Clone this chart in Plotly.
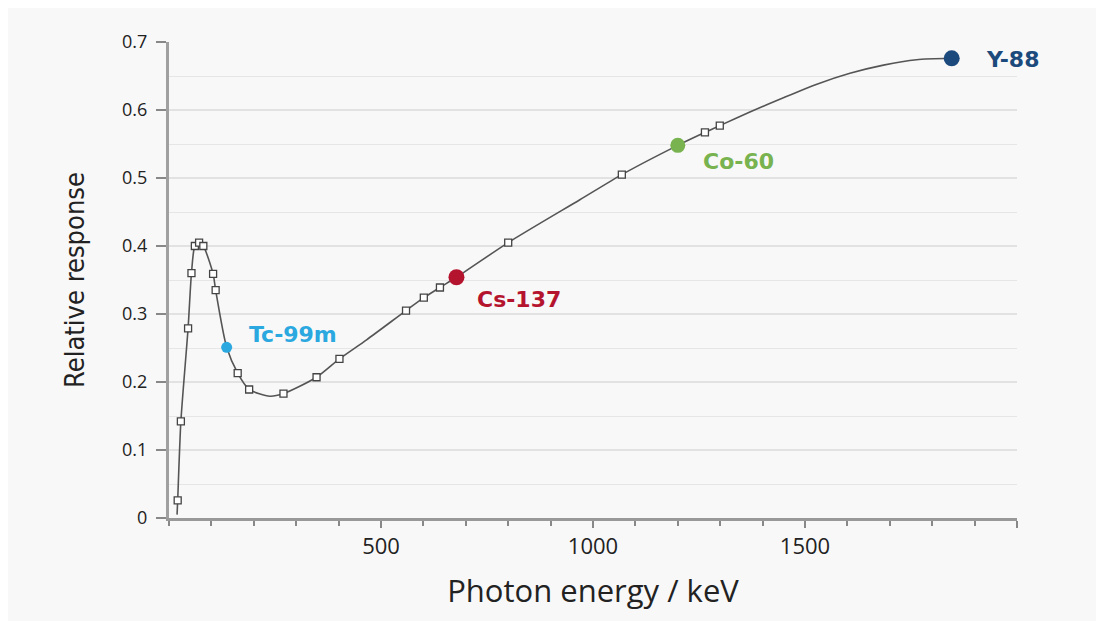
import plotly.graph_objects as go

curve_energy = [19, 20.5, 28, 45, 53, 61, 71, 81, 104, 110, 136, 162, 189, 238, 270,
                348, 402, 466, 559, 601, 639, 678, 800, 969, 1068, 1200, 1264, 1299,
                1370, 1449, 1528, 1606, 1685, 1763, 1846]
curve_response = [0.005, 0.026, 0.142, 0.279, 0.360, 0.400, 0.405, 0.400, 0.359, 0.335,
                  0.251, 0.213, 0.189, 0.179, 0.183, 0.207, 0.234, 0.262, 0.305, 0.324,
                  0.339, 0.354, 0.405, 0.468, 0.505, 0.548, 0.567, 0.577, 0.597, 0.618,
                  0.638, 0.654, 0.666, 0.674, 0.676]

# Measured points (open squares)
meas_energy = [20.5, 28, 45, 53, 61, 71, 81, 104, 110, 162, 189, 270, 348, 402,
               559, 601, 639, 800, 1068, 1264, 1299]
meas_response = [0.026, 0.142, 0.279, 0.360, 0.400, 0.405, 0.400, 0.359, 0.335, 0.213,
                 0.189, 0.183, 0.207, 0.234, 0.305, 0.324, 0.339, 0.405, 0.505, 0.567, 0.577]

# Calibration sources
source_names = ["Tc-99m", "Cs-137", "Co-60", "Y-88"]
source_energy = [136, 678, 1200, 1846]
source_response = [0.251, 0.354, 0.548, 0.676]
source_colors = ["#2aa8df", "#b5142f", "#78b350", "#1c4a7c"]
source_sizes = [11, 16, 15, 16]
label_x = [292, 825, 1342, 1990]
label_y = [0.270, 0.321, 0.525, 0.675]

y_ticks = [0, 0.1, 0.2, 0.3, 0.4, 0.5, 0.6, 0.7]
y_ticktext = ["0", "0.1", "0.2", "0.3", "0.4", "0.5", "0.6", "0.7"]
x_ticks = [500, 1000, 1500, 2000]
x_ticktext = ["500", "1000", "1500", ""]

fig = go.Figure()
fig.add_trace(go.Scatter(x=curve_energy, y=curve_response, mode="lines",
                         line=dict(color="#555555", width=1.6, shape="spline", smoothing=0.7),
                         hoverinfo="skip", showlegend=False))
fig.add_trace(go.Scatter(x=meas_energy, y=meas_response, mode="markers",
                         marker=dict(symbol="square", size=7, color="white", opacity=1,
                                     line=dict(color="#444444", width=1.3)),
                         showlegend=False))
fig.add_trace(go.Scatter(x=source_energy, y=source_response, mode="markers",
                         marker=dict(symbol="circle", size=source_sizes, color=source_colors,
                                     opacity=1, line=dict(color=source_colors, width=0)),
                         cliponaxis=False, showlegend=False))

for name, lx, ly, c in zip(source_names, label_x, label_y, source_colors):
    fig.add_annotation(x=lx, y=ly, xref="x", yref="y", text="<b>%s</b>" % name,
                       showarrow=False,
                       font=dict(family="DejaVu Sans", size=22, color=c))

fig.update_layout(
    width=1096, height=613,
    margin=dict(l=161, r=87, t=34, b=103),
    paper_bgcolor="#f8f8f8", plot_bgcolor="#f8f8f8",
    font=dict(family="Open Sans", color="#222222"),
)
fig.update_xaxes(range=[0, 2000], tickvals=x_ticks, ticktext=x_ticktext,
                 ticks="outside", ticklen=7, tickwidth=2, tickcolor="#888888",
                 showline=True, linecolor="#999999", linewidth=3,
                 showgrid=False, zeroline=False,
                 minor=dict(dtick=100, ticks="outside", ticklen=5, tickwidth=1.5,
                            tickcolor="#888888", showgrid=False),
                 tickfont=dict(size=22, color="#222222"),
                 title=dict(text="Photon energy / keV", font=dict(size=31, color="#222222"),
                            standoff=21))
fig.update_yaxes(range=[0, 0.7], tickvals=y_ticks, ticktext=y_ticktext,
                 ticks="outside", ticklen=10, tickwidth=2, tickcolor="#888888",
                 ticklabelstandoff=5,
                 showline=True, linecolor="#a0a0a0", linewidth=3,
                 showgrid=True, gridcolor="#e2e2e2", gridwidth=1.5, zeroline=False,
                 minor=dict(dtick=0.05, ticks="", showgrid=True, gridcolor="#e6e6e6",
                            gridwidth=1.2),
                 tickfont=dict(size=18, color="#222222"),
                 title=dict(text="Relative response",
                            font=dict(family="Liberation Sans Narrow, DejaVu Sans Condensed",
                                      size=27, color="#222222"),
                            standoff=30))

fig.write_html("out.html")
